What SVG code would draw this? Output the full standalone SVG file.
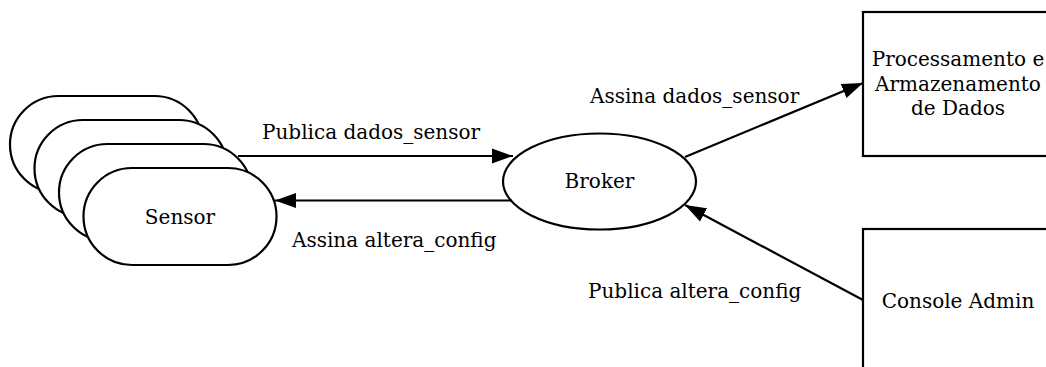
<svg xmlns="http://www.w3.org/2000/svg" width="1046" height="367" viewBox="0 0 1046 367">
  <style>
    .shape { fill: #ffffff; stroke: #000000; stroke-width: 2.2; }
    .edge { fill: none; stroke: #000000; stroke-width: 2.2; }
    text { font-family: "DejaVu Serif", "Noto Serif", serif; font-size: 20px; fill: #000000; }
    .c { text-anchor: middle; }
  </style>
  <defs>
    <marker id="arrow" markerWidth="22" markerHeight="16" refX="21" refY="8" orient="auto" markerUnits="userSpaceOnUse">
      <path d="M0,0.5 L21,8 L0,15.5 Z" fill="#000000"/>
    </marker>
  </defs>

  <!-- stacked sensor instances -->
  <g id="sensor">
    <rect class="shape" x="10" y="96" width="193" height="97" rx="48.5" ry="48.5"/>
    <rect class="shape" x="34.5" y="120" width="193" height="97" rx="48.5" ry="48.5"/>
    <rect class="shape" x="59" y="144" width="193" height="97" rx="48.5" ry="48.5"/>
    <rect class="shape" x="83.5" y="168" width="193" height="97" rx="48.5" ry="48.5"/>
    <text class="c" x="180" y="224">Sensor</text>
  </g>

  <g id="broker">
    <ellipse class="shape" cx="599.5" cy="181.5" rx="96.5" ry="48"/>
    <text class="c" x="599.5" y="188">Broker</text>
  </g>

  <g id="processamento">
    <rect class="shape" x="863" y="12" width="190" height="144"/>
    <text class="c" x="958" y="66">Processamento e</text>
    <text class="c" x="958" y="91">Armazenamento</text>
    <text class="c" x="958" y="115">de Dados</text>
  </g>

  <g id="console">
    <rect class="shape" x="863" y="229" width="190" height="150"/>
    <text class="c" x="958" y="308">Console Admin</text>
  </g>

  <g id="connectors">
    <line class="edge" x1="238" y1="156" x2="513" y2="156" marker-end="url(#arrow)"/>
    <text x="262" y="139">Publica dados_sensor</text>

    <line class="edge" x1="512" y1="200.5" x2="275" y2="200.5" marker-end="url(#arrow)"/>
    <text x="292" y="247">Assina altera_config</text>

    <line class="edge" x1="685" y1="157" x2="863" y2="83" marker-end="url(#arrow)"/>
    <text x="590" y="103">Assina dados_sensor</text>

    <line class="edge" x1="863" y1="300" x2="685" y2="205" marker-end="url(#arrow)"/>
    <text x="588" y="298">Publica altera_config</text>
  </g>
</svg>
